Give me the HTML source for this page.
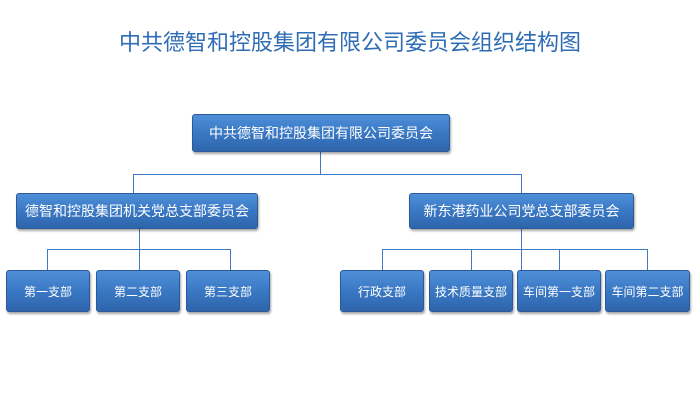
<!DOCTYPE html><html><head><meta charset="utf-8"><style>
body{margin:0;width:700px;height:400px;background:#fff;position:relative;font-family:"Liberation Sans","Noto Sans CJK SC",sans-serif;overflow:hidden}
.t{position:absolute;top:25px;left:0;width:700px;text-align:center;font-size:22px;color:#2f6db5}
.b{position:absolute;box-sizing:border-box;border-radius:3px;background:linear-gradient(#4f8fd8,#3a78c4 50%,#2e65ab);border:1px solid #2a5a9a;box-shadow:1px 2px 2px rgba(0,0,0,.35);color:#fff;display:flex;align-items:center;justify-content:center;font-size:14px}
.l{position:absolute;background:#3c7bc8}
</style></head><body>
<div class="t">中共德智和控股集团有限公司委员会组织结构图</div>
<div class="l" style="left:320px;top:152px;width:1px;height:23px"></div>
<div class="l" style="left:133px;top:174px;width:389px;height:1px"></div>
<div class="l" style="left:133px;top:174px;width:1px;height:19px"></div>
<div class="l" style="left:521px;top:174px;width:1px;height:19px"></div>
<div class="l" style="left:139px;top:229px;width:1px;height:41px"></div>
<div class="l" style="left:47px;top:249px;width:184px;height:1px"></div>
<div class="l" style="left:47px;top:249px;width:1px;height:21px"></div>
<div class="l" style="left:230px;top:249px;width:1px;height:21px"></div>
<div class="l" style="left:521px;top:229px;width:1px;height:41px"></div>
<div class="l" style="left:382px;top:249px;width:266px;height:1px"></div>
<div class="l" style="left:382px;top:249px;width:1px;height:21px"></div>
<div class="l" style="left:471px;top:249px;width:1px;height:21px"></div>
<div class="l" style="left:559px;top:249px;width:1px;height:21px"></div>
<div class="l" style="left:647px;top:249px;width:1px;height:21px"></div>
<div class="b" style="left:192px;top:114px;width:258px;height:38px">中共德智和控股集团有限公司委员会</div>
<div class="b" style="left:16px;top:193px;width:242px;height:36px">德智和控股集团机关党总支部委员会</div>
<div class="b" style="left:409px;top:193px;width:225px;height:36px">新东港药业公司党总支部委员会</div>
<div class="b" style="left:6px;top:270px;width:84px;height:42px;font-size:12px">第一支部</div>
<div class="b" style="left:96px;top:270px;width:84px;height:42px;font-size:12px">第二支部</div>
<div class="b" style="left:186px;top:270px;width:84px;height:42px;font-size:12px">第三支部</div>
<div class="b" style="left:340px;top:270px;width:84px;height:42px;font-size:12px">行政支部</div>
<div class="b" style="left:429px;top:270px;width:84px;height:42px;font-size:12px">技术质量支部</div>
<div class="b" style="left:517px;top:270px;width:84px;height:42px;font-size:12px">车间第一支部</div>
<div class="b" style="left:605px;top:270px;width:85px;height:42px;font-size:12px">车间第二支部</div>
</body></html>
